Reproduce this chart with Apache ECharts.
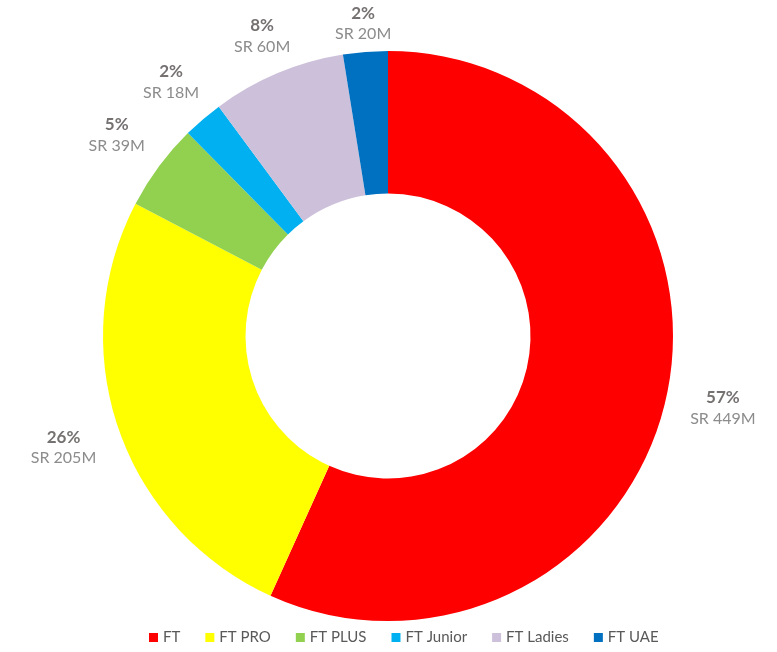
<!DOCTYPE html>
<html>
<head>
<meta charset="utf-8">
<script src="https://cdn.jsdelivr.net/npm/echarts@6/dist/echarts.min.js"></script>
<style>
  html, body { margin: 0; padding: 0; background: #fff; }
  #chart { width: 777px; height: 652px; }
</style>
</head>
<body>
<div id="chart"></div>
<script>
// segments, clockwise from 12 o'clock
const categories = ['FT', 'FT PRO', 'FT PLUS', 'FT Junior', 'FT Ladies', 'FT UAE']
const revenue = [449, 205, 39, 18, 60, 20]        // SR millions
const shareLabels = [57, 26, 5, 2, 8, 2]           // % as printed on the chart
const colors = ['#FF0000', '#FFFF00', '#92D050', '#00B0F0', '#CCC0DA', '#0070C0']

const cx = 388
const cy = 336
const outerR = 285

const total = revenue.reduce((a, b) => a + b, 0)
const midAngles = []
let acc = 0
revenue.forEach(v => {
  midAngles.push((acc + v / 2) / total * Math.PI * 2)
  acc += v
})

const chart = echarts.init(document.getElementById('chart'))

chart.setOption({
  color: colors,
  animation: false,
  legend: {
    data: categories,
    bottom: 2,
    left: 144,
    itemWidth: 9,
    itemHeight: 9,
    itemGap: 25,
    icon: 'rect',
    textStyle: {
      fontFamily: 'Lato',
      fontSize: 15,
      color: '#595959'
    }
  },
  series: [{
    type: 'pie',
    center: [cx, cy],
    radius: [outerR * 0.5, outerR],
    startAngle: 90,
    clockwise: true,
    data: categories.map((name, i) => ({ name, value: revenue[i] })),
    label: {
      show: true,
      position: 'outside',
      overflow: 'none',
      formatter: p => '{p|' + shareLabels[p.dataIndex] + '%}\n{v|SR ' + p.value + 'M}',
      rich: {
        p: {
          fontFamily: 'Lato',
          fontSize: 17,
          fontWeight: 'bold',
          color: '#767171',
          align: 'center',
          lineHeight: 21
        },
        v: {
          fontFamily: 'Lato',
          fontSize: 16,
          color: '#8c8c8c',
          align: 'center',
          lineHeight: 21
        }
      }
    },
    labelLine: { show: false },
    labelLayout: params => {
      const a = midAngles[params.dataIndex]
      const s = Math.sin(a)
      const c = Math.cos(a)
      const w = params.labelRect.width / 2
      const h = params.labelRect.height / 2
      const d = outerR + 6 + Math.abs(s) * (w + 16) + Math.abs(c) * h
      return {
        x: cx + d * s,
        y: cy - d * c,
        align: 'center',
        verticalAlign: 'middle'
      }
    },
    emphasis: { disabled: true }
  }]
})
</script>
</body>
</html>
